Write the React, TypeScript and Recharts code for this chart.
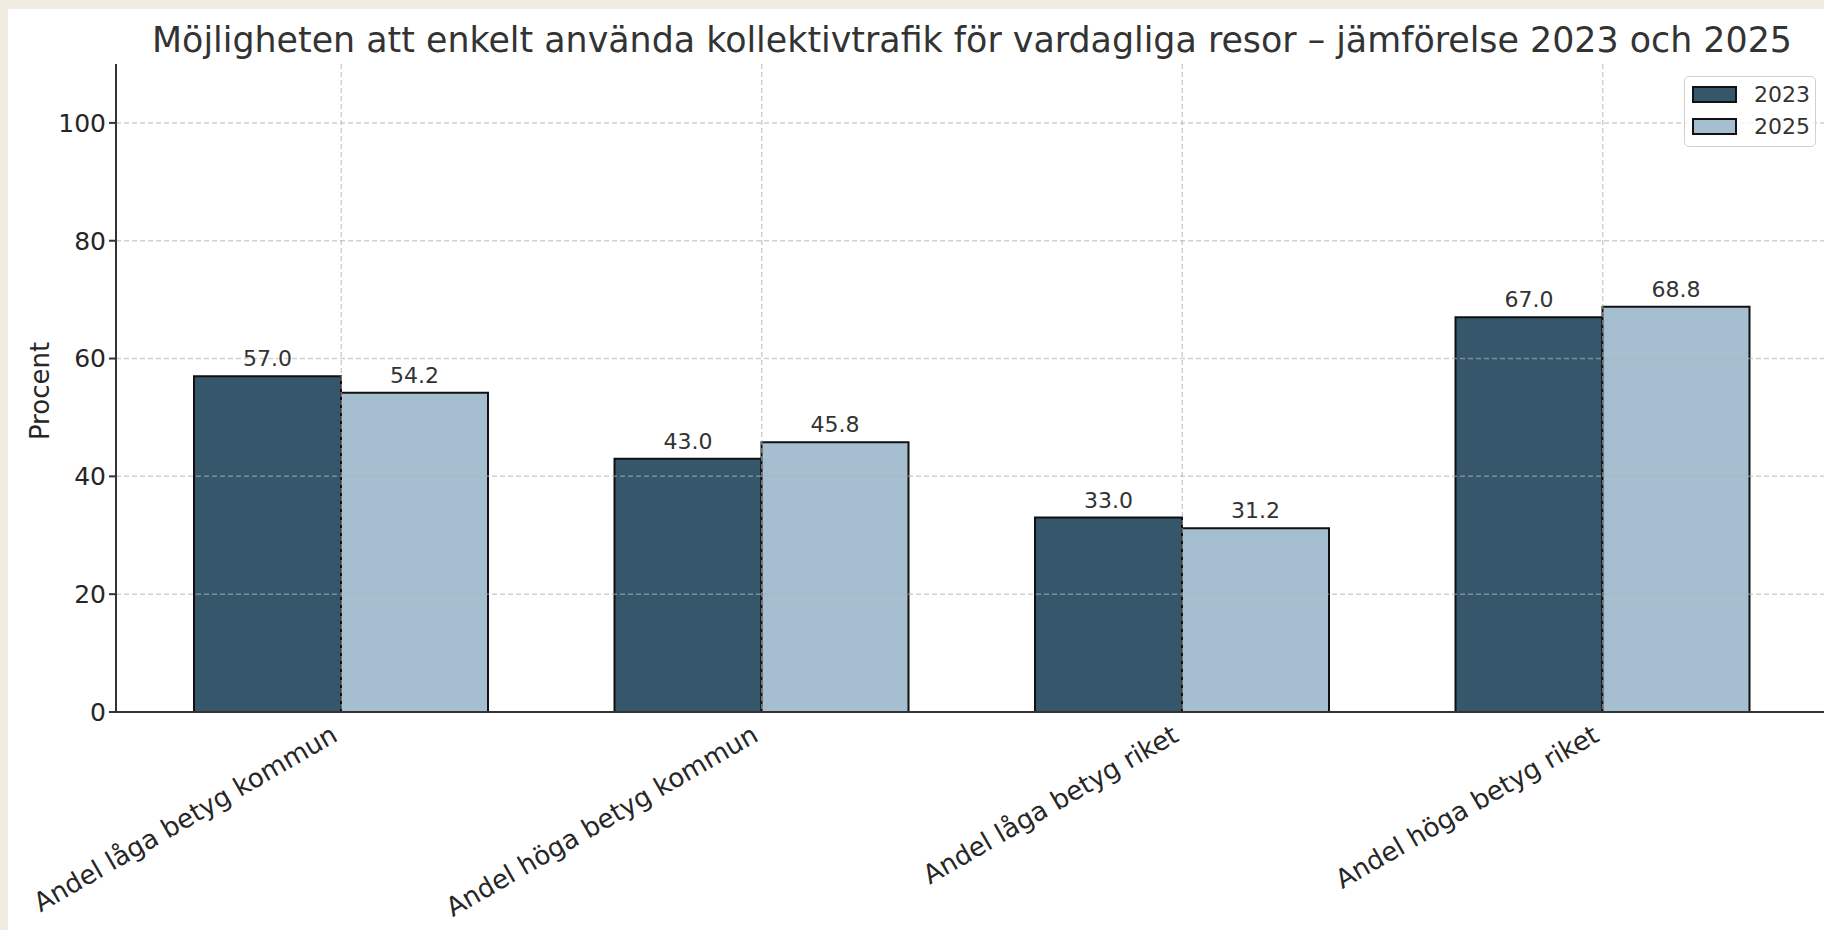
import React from "react";
import { BarChart, Bar, XAxis, YAxis, CartesianGrid, LabelList } from "recharts";

const categories = [
  "Andel låga betyg kommun",
  "Andel höga betyg kommun",
  "Andel låga betyg riket",
  "Andel höga betyg riket",
];
const values2023 = [57.0, 43.0, 33.0, 67.0];
const values2025 = [54.2, 45.8, 31.2, 68.8];
const yTicks = [0, 20, 40, 60, 80, 100];
const gridValues = [20, 40, 60, 80, 100];
const seriesNames = ["2023", "2025"];
const seriesColors = ["#36566b", "#a5bfd0"];
const title =
  "Möjligheten att enkelt använda kollektivtrafik för vardagliga resor – jämförelse 2023 och 2025";
const yLabel = "Procent";

const data = categories.map((c, i) => ({
  name: c,
  v2023: values2023[i],
  v2025: values2025[i],
}));

const FONT = "'DejaVu Sans', sans-serif";

const XTick = (props: any) => {
  const { x, y, payload } = props;
  const ax = x - 2;
  const ay = y + 28;
  return (
    <text
      x={ax}
      y={ay}
      textAnchor="end"
      transform={`rotate(-30, ${ax}, ${ay})`}
      fontFamily={FONT}
      fontSize={26.2}
      fill="#262626"
    >
      {payload.value}
    </text>
  );
};

export default function App() {
  return (
    <>
      <div style={{ position: "fixed", left: 0, top: 0, right: 0, bottom: 0, background: "#f0ece2" }} />
      <div
        style={{
          position: "absolute",
          left: 8,
          top: 9,
          width: 1816,
          height: 921,
          background: "#ffffff",
          overflow: "hidden",
        }}
      >
        <BarChart
          width={1824}
          height={921}
          data={data}
          margin={{ top: 55, right: 4, bottom: 68, left: 48 }}
          barCategoryGap={63}
          barGap={0}
        >
          <CartesianGrid
            stroke="#b0b0b0"
            strokeOpacity={0.6}
            strokeDasharray="5 3"
            strokeWidth={1.5}
            horizontalValues={gridValues}
            zIndex={600}
          />
          <Bar dataKey="v2023" fill={seriesColors[0]} stroke="#111111" strokeWidth={2} isAnimationActive={false}>
            <LabelList
              dataKey="v2023"
              position="top"
              offset={10}
              formatter={(v: any) => Number(v).toFixed(1)}
              style={{ fontFamily: FONT, fontSize: 22, fill: "#333333" }}
            />
          </Bar>
          <Bar dataKey="v2025" fill={seriesColors[1]} stroke="#111111" strokeWidth={2} isAnimationActive={false}>
            <LabelList
              dataKey="v2025"
              position="top"
              offset={10}
              formatter={(v: any) => Number(v).toFixed(1)}
              style={{ fontFamily: FONT, fontSize: 22, fill: "#333333" }}
            />
          </Bar>
          <XAxis
            dataKey="name"
            height={150}
            tick={<XTick />}
            tickLine={false}
            tickSize={0}
            tickMargin={0}
            axisLine={{ stroke: "#333333", strokeWidth: 2 }}
            padding={{ left: 15, right: 15 }}
            interval={0}
            zIndex={800}
          />
          <YAxis
            width={60}
            domain={[0, 110]}
            ticks={yTicks}
            allowDataOverflow
            tickSize={7}
            tickMargin={3}
            tickLine={{ stroke: "#333333", strokeWidth: 2 }}
            axisLine={{ stroke: "#333333", strokeWidth: 2 }}
            tick={{ fontFamily: FONT, fontSize: 25, fill: "#262626" }}
            zIndex={800}
          />
        </BarChart>
        <svg
          width={1816}
          height={921}
          style={{ position: "absolute", left: 0, top: 0, pointerEvents: "none" }}
        >
          <text x={964} y={43} textAnchor="middle" fontFamily={FONT} fontSize={34.85} fill="#333333">
            {title}
          </text>
          <text
            x={41}
            y={382}
            textAnchor="middle"
            transform={`rotate(-90, 41, 382)`}
            fontFamily={FONT}
            fontSize={26}
            fill="#262626"
          >
            {yLabel}
          </text>
        </svg>
        <div
          style={{
            position: "absolute",
            left: 1676,
            top: 67,
            width: 130,
            height: 69,
            border: "1.5px solid #d0d0d0",
            borderRadius: 5,
            background: "rgba(255,255,255,0.8)",
            fontFamily: FONT,
          }}
        >
          {seriesNames.map((n, i) => (
            <div key={n} style={{ position: "absolute", left: 7, top: 9 + i * 32, height: 17, display: "flex", alignItems: "center" }}>
              <div
                style={{
                  width: 41,
                  height: 13,
                  background: seriesColors[i],
                  border: "2px solid #111111",
                }}
              />
              <span style={{ marginLeft: 17, fontSize: 22, color: "#333333", lineHeight: "17px" }}>{n}</span>
            </div>
          ))}
        </div>
      </div>
    </>
  );
}
